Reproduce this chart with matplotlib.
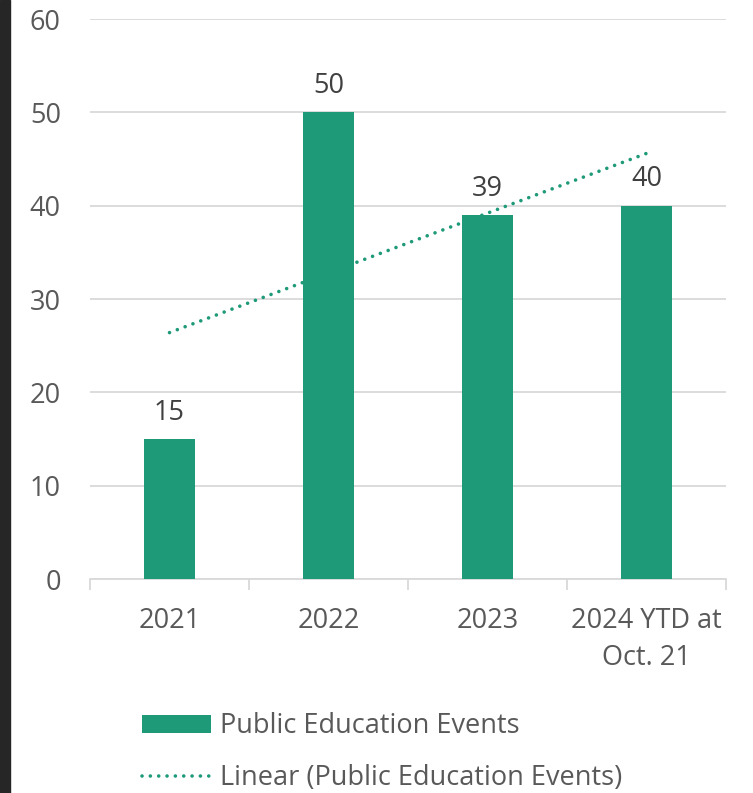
import numpy as np
import matplotlib.pyplot as plt
from matplotlib.patches import Patch, Rectangle
from matplotlib.lines import Line2D

plt.rcParams['font.family'] = ['Open Sans', 'DejaVu Sans']

categories = ['2021', '2022', '2023', '2024 YTD at\nOct. 21']
events = [15, 50, 39, 40]
y_ticks = [0, 10, 20, 30, 40, 50, 60]

green = '#1f9a78'
tick_color = '#595959'
label_color = '#404040'
grid_color = '#d9d9d9'
dots = (0, (0.01, 2.3))

fig = plt.figure(figsize=(7.53, 7.93), dpi=100)
# dark strip down the left edge
fig.patches.append(Rectangle((0, 0), 10 / 753, 1, transform=fig.transFigure,
                             color='#262626', zorder=0))

ax = fig.add_axes([90 / 753, 1 - 579 / 793, 636 / 753, 560 / 793])
x = np.arange(len(categories))
bars = ax.bar(x, events, width=0.315, color=green, zorder=3)

# linear trend through the bar values
slope, intercept = np.polyfit(x, events, 1)
trend = slope * x + intercept
ax.plot([x[0], x[-1]], [trend[0], trend[-1]], color=green, lw=2.6,
        linestyle=dots, dash_capstyle='round', zorder=4)

for xi, v in zip(x, events):
    ax.annotate(str(v), (xi, v), xytext=(0, 9), textcoords='offset points',
                ha='center', va='bottom', fontsize=19.5, color=label_color)

ax.set_xlim(-0.5, len(categories) - 0.5)
ax.set_ylim(0, 60)
ax.set_yticks(y_ticks)
ax.yaxis.grid(True, color=grid_color, lw=1.3, zorder=0)
ax.tick_params(axis='y', length=0, pad=21, labelsize=19.5, labelcolor=tick_color)

ax.set_xticks(x)
ax.set_xticklabels(categories, linespacing=1.45)
ax.set_xticks(np.arange(-0.5, len(categories)), minor=True)
ax.tick_params(axis='x', which='major', length=0, pad=20, labelsize=19.5,
               labelcolor=tick_color)
ax.tick_params(axis='x', which='minor', length=8, width=1.3, color=grid_color)

for side in ['top', 'right', 'left']:
    ax.spines[side].set_visible(False)
ax.spines['bottom'].set_color(grid_color)
ax.spines['bottom'].set_linewidth(1.3)

handles = [
    Patch(facecolor=green, edgecolor='none', label='Public Education Events'),
    Line2D([0], [0], color=green, lw=2.6, linestyle=dots,
           dash_capstyle='round', label='Linear (Public Education Events)'),
]
fig.legend(handles=handles, loc='upper left',
           bbox_to_anchor=(118 / 753, 1 - 688 / 793), frameon=False,
           fontsize=19.5, labelcolor=tick_color, handlelength=2.55,
           handleheight=0.65, handletextpad=0.3, labelspacing=0.88)

fig.savefig('out.png', dpi=100, facecolor='white')
